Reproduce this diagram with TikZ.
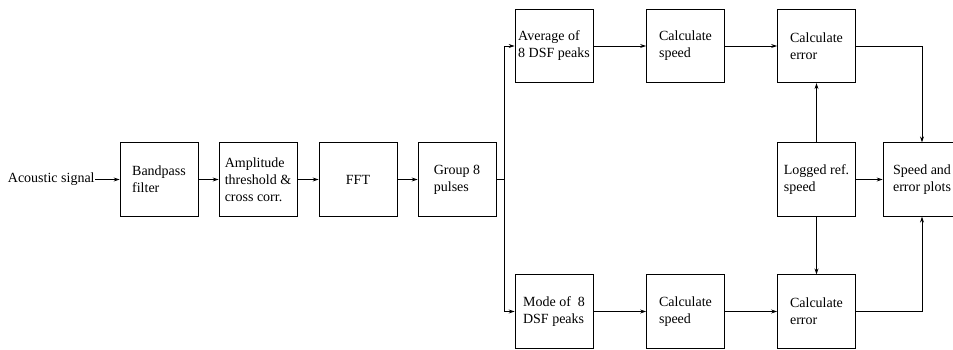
\documentclass[tikz,border=0pt]{standalone}
\usepackage{fontspec}
\setmainfont{Liberation Serif}
\usetikzlibrary{arrows.meta}
\begin{document}
\begin{tikzpicture}[x=1pt, y=1pt, line width=0.8pt,
  >={Stealth[length=6pt,width=4pt]},
  txt/.style={font=\fontsize{14}{17}\selectfont},
  block/.style={draw, txt, align=left, minimum width=78pt, minimum height=73.5pt, inner sep=2pt}]
\useasboundingbox (0,0) rectangle (953,349);
% main chain
\node[txt, anchor=east, inner sep=0pt] (signal) at (95,169.5) {Acoustic signal};
\node[block] (bandpass) at (159,169.5) {Bandpass\\filter};
\node[block] (threshold) at (258,169.5) {Amplitude\\threshold \&\\cross corr.};
\node[block] (fft) at (358,169.5) {FFT};
\node[block] (group) at (457,169.5) {Group 8\\pulses};
\coordinate (split) at (504,169.5);
% upper branch
\node[block] (average) at (554,303) {Average of\\8 DSF peaks};
\node[block] (speedtop) at (685.5,303) {Calculate\\speed};
\node[block] (errortop) at (816.5,303) {Calculate\\error};
% lower branch
\node[block] (mode) at (554,37.5) {Mode of~ 8\\DSF peaks};
\node[block] (speedbot) at (685.5,37.5) {Calculate\\speed};
\node[block] (errorbot) at (816.5,37.5) {Calculate\\error};
% reference and output
\node[block] (logged) at (816.5,169.5) {Logged ref.\\speed};
\node[block] (plots) at (922,169.5) {Speed and\\error plots};
\draw[->] (signal) -- (bandpass);
\draw[->] (bandpass) -- (threshold);
\draw[->] (threshold) -- (fft);
\draw[->] (fft) -- (group);
\draw (group) -- (split);
\draw[->] (split) |- (average);
\draw[->] (split) |- (mode);
\draw[->] (average) -- (speedtop);
\draw[->] (speedtop) -- (errortop);
\draw[->] (mode) -- (speedbot);
\draw[->] (speedbot) -- (errorbot);
\draw[->] (logged) -- (errortop);
\draw[->] (logged) -- (errorbot);
\draw[->] (logged) -- (plots);
\draw[->] (errortop) -| (plots);
\draw[->] (errorbot) -| (plots);
\end{tikzpicture}
\end{document}
